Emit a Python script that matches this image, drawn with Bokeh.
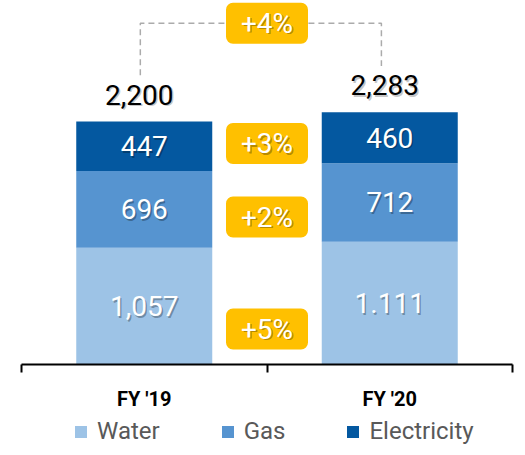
from bokeh.plotting import figure
from bokeh.layouts import column
from bokeh.models import (ColumnDataSource, Range1d, LinearAxis, FixedTicker,
                          Legend, LegendItem)
from bokeh.core.properties import value
from bokeh.embed import file_html
from bokeh.resources import INLINE

# ---------------- data ----------------
categories = ["FY '19", "FY '20"]
water = [1057, 1111]
gas = [696, 712]
electricity = [447, 460]
water_labels = ["1,057", "1.111"]
gas_labels = ["696", "712"]
electricity_labels = ["447", "460"]
total_labels = ["2,200", "2,283"]
series_names = ["Water", "Gas", "Electricity"]
growth_labels = ["+5%", "+2%", "+3%"]      # water, gas, electricity
total_growth_label = "+4%"

# ---------------- styles / layout ----------------
colors = ["#9DC3E6", "#5694D0", "#0458A0"]
badge_color = "#FFC000"
badge_y = [321, 1335, 2001]      # vertical placement of growth badges (data units)
top_badge_y = 3090
connector_gap = 420
FONT = "Roboto"

xs = [i + 0.5 for i in range(len(categories))]
totals = [a + b + c for a, b, c in zip(water, gas, electricity)]

p = figure(frame_width=491, frame_height=364, x_range=Range1d(0, 2), y_range=Range1d(0, 3296),
           x_axis_type=None, y_axis_type=None, output_backend="svg",
           toolbar_location=None, min_border_left=21, min_border_right=9,
           min_border_top=0, min_border_bottom=0)
p.outline_line_color = None
p.background_fill_color = "white"

src = ColumnDataSource(dict(x=xs, water=water, gas=gas, electricity=electricity))
rends = p.vbar_stack(["water", "gas", "electricity"], x="x", width=0.554,
                     color=colors, source=src, line_color=None)

# segment labels
seg_x, seg_y, seg_t = [], [], []
for i in range(len(categories)):
    seg_x += [xs[i]] * 3
    seg_y += [water[i] / 2, water[i] + gas[i] / 2, water[i] + gas[i] + electricity[i] / 2]
    seg_t += [water_labels[i], gas_labels[i], electricity_labels[i]]
seg_src = ColumnDataSource(dict(x=seg_x, y=seg_y, text=seg_t))
common = dict(text_font=value(FONT), text_font_size="28px", text_align="center",
              text_baseline="middle")
p.text(x="x", y="y", text="text", source=seg_src, text_color="rgba(0,0,0,0.3)",
       x_offset=1.5, y_offset=1.5, **common)
p.text(x="x", y="y", text="text", source=seg_src, text_color="white", **common)

# totals
tot_src = ColumnDataSource(dict(x=xs, y=totals, text=total_labels))
p.text(x="x", y="y", text="text", source=tot_src, text_color="rgba(0,0,0,0.22)",
       x_offset=-3.5, y_offset=-25.5, **common)
p.text(x="x", y="y", text="text", source=tot_src, text_color="black",
       x_offset=-5, y_offset=-27, **common)

# dashed connector
lx0, lx1 = xs[0] - 0.016, xs[1] - 0.034
p.line([lx0, lx0, lx1, lx1],
       [totals[0] + connector_gap, top_badge_y, top_badge_y, totals[1] + connector_gap],
       line_color="#ABABAB", line_width=1.5, line_dash="6 4")

# badges
bx = [1.0] * 4
by = badge_y + [top_badge_y]
bt = growth_labels + [total_growth_label]
b_src = ColumnDataSource(dict(x=bx, y=by, text=bt))
p.rect(x="x", y="y", width=82, height=41, width_units="screen", height_units="screen",
       fill_color=badge_color, line_color=None, border_radius=7, source=b_src)
p.text(x="x", y="y", text="text", source=b_src, text_color="rgba(0,0,0,0.3)",
       x_offset=1.5, y_offset=1.5, **common)
p.text(x="x", y="y", text="text", source=b_src, text_color="white", **common)

# axis
ax = LinearAxis(ticker=FixedTicker(ticks=xs, minor_ticks=[0, 1, 2]),
                major_label_overrides={xs[i]: c for i, c in enumerate(categories)})
ax.axis_line_color = "black"
ax.axis_line_width = 2
ax.major_tick_out = 0
ax.major_tick_in = 0
ax.minor_tick_out = 8
ax.minor_tick_in = 0
ax.minor_tick_line_color = "black"
ax.minor_tick_line_width = 2
ax.major_label_text_font = FONT
ax.major_label_text_font_style = "bold"
ax.major_label_text_font_size = "20px"
ax.major_label_text_color = "black"
ax.major_label_standoff = 14
p.add_layout(ax, "below")

# legend in a strip below the chart (zero-height proxy glyphs, nothing drawn in the strip)
lg = figure(width=521, height=40, x_range=Range1d(0, 1), y_range=Range1d(0, 1),
            x_axis_type=None, y_axis_type=None, output_backend="svg",
            toolbar_location=None, min_border=0)
lg.outline_line_color = None
leg_rends = [lg.vbar(x=[0.5], top=[0], bottom=[0], width=0.0, fill_color=c, line_color=None)
             for c in colors]
legend = Legend(items=[LegendItem(label=n, renderers=[r]) for n, r in zip(series_names, leg_rends)],
                orientation="horizontal", location=(52, 8))
legend.glyph_width = 15
legend.glyph_height = 15
legend.label_standoff = 9
legend.spacing = 60
legend.padding = 0
legend.margin = 0
legend.border_line_color = None
legend.background_fill_alpha = 0
legend.label_text_font = FONT
legend.label_text_font_size = "24px"
legend.label_text_color = "#595959"
lg.add_layout(legend)

open("out.html", "w").write(file_html(column(p, lg, spacing=0), INLINE))
